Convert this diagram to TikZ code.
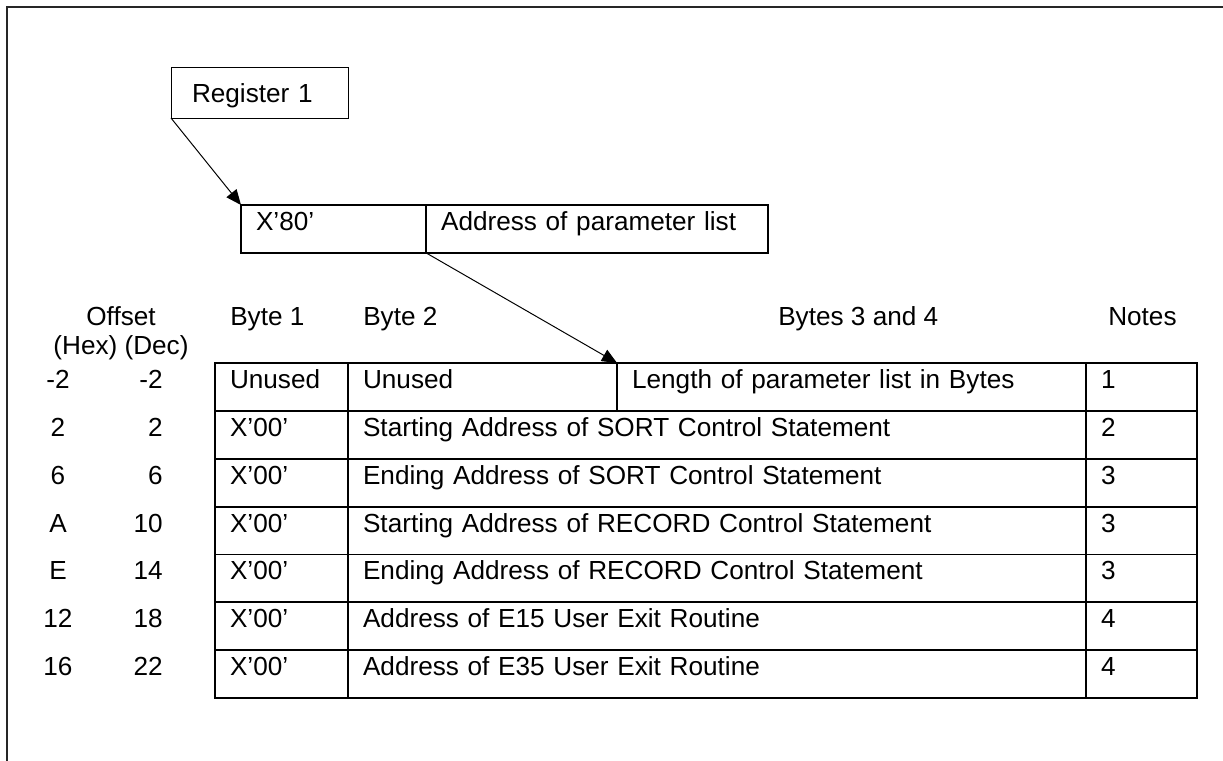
\documentclass[tikz,border=0pt]{standalone}
\usepackage{fontspec}
\setmainfont{Liberation Sans}
\usetikzlibrary{arrows.meta}

\tikzset{
  cell/.style={draw, line width=1.4pt, anchor=north west, outer sep=0pt,
    inner xsep=0.375cm, inner ysep=0pt, text height=0.6375cm,
    text depth=0.559cm, text width=#1, align=left},
  regbox/.style={draw, line width=0.7pt, anchor=north west, outer sep=0pt,
    inner xsep=0.525cm, inner ysep=0pt, text height=0.875cm,
    text depth=0.4cm, text width=3.375cm, align=left},
  head/.style={inner sep=0pt},
  ptr/.style={line width=0.7pt, -{Triangle[length=0.38cm, width=0.32cm]}}
}

\begin{document}
\begin{tikzpicture}[x=0.025cm, y=-0.025cm, font=\fontsize{18.6}{22}\selectfont]

\useasboundingbox (0,0) rectangle (1223,761);

\draw[line width=1.5pt, black!85] (7,761) -- (7,7) -- (1223,7);

\node[regbox] (reg) at (171,67)
{Register 1};

\node[cell=3.875cm] (x80) at (241,205)
{X’80’};
\node[cell=7.8cm] (addr) at (x80.north east)
{Address of parameter list};

\node[head, anchor=base] (offset) at (121,326)
{Offset};
\node[head, anchor=base] (hexdec) at (121,354)
{(Hex) (Dec)};
\node[head, anchor=base west] (byte1) at (230,326)
{Byte 1};
\node[head, anchor=base west] (byte2) at (363,326)
{Byte 2};
\node[head, anchor=base west] (byte34) at (778,326)
{Bytes 3 and 4};
\node[head, anchor=base west] (notes) at (1108,326)
{Notes};

\node[cell=2.575cm] (r1a) at (215,363)
{Unused};
\node[cell=5.975cm] (r1b) at (r1a.north east)
{Unused};
\node[cell=10.975cm] (len) at (r1b.north east)
{Length of parameter list in Bytes};
\node[cell=2.025cm] (r1n) at (len.north east)
{1};

\node[cell=2.575cm] (r2a) at (r1a.south west)
{X’00’};
\node[cell=17.7cm] (r2b) at (r2a.north east)
{Starting Address of SORT Control Statement};
\node[cell=2.025cm] (r2n) at (r2b.north east)
{2};

\node[cell=2.575cm] (r3a) at (r2a.south west)
{X’00’};
\node[cell=17.7cm] (r3b) at (r3a.north east)
{Ending Address of SORT Control Statement};
\node[cell=2.025cm] (r3n) at (r3b.north east)
{3};

\node[cell=2.575cm] (r4a) at (r3a.south west)
{X’00’};
\node[cell=17.7cm] (r4b) at (r4a.north east)
{Starting Address of RECORD Control Statement};
\node[cell=2.025cm] (r4n) at (r4b.north east)
{3};

\node[cell=2.575cm] (r5a) at (r4a.south west)
{X’00’};
\node[cell=17.7cm] (r5b) at (r5a.north east)
{Ending Address of RECORD Control Statement};
\node[cell=2.025cm] (r5n) at (r5b.north east)
{3};

\node[cell=2.575cm] (r6a) at (r5a.south west)
{X’00’};
\node[cell=17.7cm] (r6b) at (r6a.north east)
{Address of E15 User Exit Routine};
\node[cell=2.025cm] (r6n) at (r6b.north east)
{4};

\node[cell=2.575cm] (r7a) at (r6a.south west)
{X’00’};
\node[cell=17.7cm] (r7b) at (r7a.north east)
{Address of E35 User Exit Routine};
\node[cell=2.025cm] (r7n) at (r7b.north east)
{4};

\node[head, anchor=base] (h1) at (58,0 |- r1a.base) {-2};
\node[head, anchor=base east] (d1) at (163,0 |- r1a.base) {-2};
\node[head, anchor=base] (h2) at (58,0 |- r2a.base) {2};
\node[head, anchor=base east] (d2) at (163,0 |- r2a.base) {2};
\node[head, anchor=base] (h3) at (58,0 |- r3a.base) {6};
\node[head, anchor=base east] (d3) at (163,0 |- r3a.base) {6};
\node[head, anchor=base] (h4) at (58,0 |- r4a.base) {A};
\node[head, anchor=base east] (d4) at (163,0 |- r4a.base) {10};
\node[head, anchor=base] (h5) at (58,0 |- r5a.base) {E};
\node[head, anchor=base east] (d5) at (163,0 |- r5a.base) {14};
\node[head, anchor=base] (h6) at (58,0 |- r6a.base) {12};
\node[head, anchor=base east] (d6) at (163,0 |- r6a.base) {18};
\node[head, anchor=base] (h7) at (58,0 |- r7a.base) {16};
\node[head, anchor=base east] (d7) at (163,0 |- r7a.base) {22};

\draw[ptr] (reg.south west) -- (x80.north west);
\draw[ptr] (x80.south east) -- (len.north west);

\end{tikzpicture}
\end{document}
